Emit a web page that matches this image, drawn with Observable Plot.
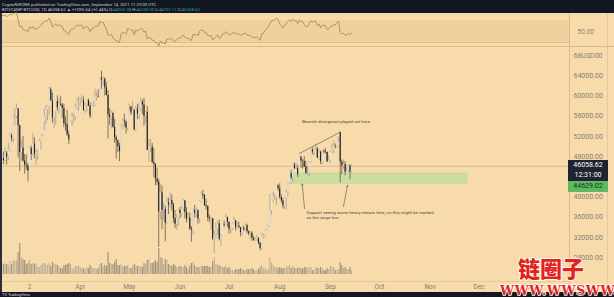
<!DOCTYPE html>
<html>
<head>
<meta charset="utf-8">
<script src="https://cdn.jsdelivr.net/npm/d3@7"></script>
<script src="https://cdn.jsdelivr.net/npm/@observablehq/plot@0.6"></script>
<style>
html,body{margin:0;padding:0;background:#f8dbab;}
#wrap{position:relative;width:614px;height:297px;overflow:hidden;background:#f8dbab;font-family:Roboto,"Liberation Sans",sans-serif;}
.abs{position:absolute;left:0;}
#hdr{position:absolute;left:0;top:0;width:614px;height:13px;background:#131722;color:#c9ccd4;font-size:4.3px;line-height:5px;white-space:nowrap;}
#hdr div{position:absolute;left:2px;}
.teal{color:#2aa596;}
.hl{position:absolute;background:#d9bc8e;}
#ftr{position:absolute;left:0;top:292px;width:614px;height:5px;background:#131722;color:#d8dbe2;font-size:4px;line-height:5px;padding-left:2px;box-sizing:border-box;}
.plbl{position:absolute;left:568px;width:40px;text-align:center;font-size:7px;}
#wm{position:absolute;left:0;top:0;width:614px;height:297px;z-index:10;pointer-events:none;}
</style>
</head>
<body>
<div id="wrap">
  <div id="hdr">
    <div style="top:1.5px">CryptoNIKONE published on TradingView.com, September 14, 2021 11:29:00 UTC</div>
    <div style="top:7px">BITSTAMP:BTCUSD, 1D 46058.62 ▲ +1095.54 (+2.44%) O:<span class="teal">44963.08</span> H:<span class="teal">46330.00</span> L:<span class="teal">44751.11</span> C:<span class="teal">46058.62</span></div>
  </div>
  <div id="rsi" class="abs" style="top:13px"></div>
  <div id="vol" class="abs" style="top:234px"></div>
  <div id="main" class="abs" style="top:46px"></div>
  <div class="hl" style="left:0;top:46px;width:614px;height:0.8px"></div>
  <div class="hl" style="left:0;top:281px;width:569px;height:0.6px;opacity:0.6"></div>
  <div class="hl" style="left:569px;top:13px;width:0.8px;height:279px"></div>
  <div class="hl" style="left:607px;top:13px;width:0.6px;height:279px;opacity:0.6"></div>
  <div style="position:absolute;left:0;top:13px;width:1.5px;height:279px;background:#2a2e39"></div>
  <div id="labels"></div>
  <div id="ftr">TV TradingView</div>
  <svg id="wm" width="614" height="297" xmlns="http://www.w3.org/2000/svg">
    <g fill="#e3231b" stroke="#ffffff" stroke-width="1.6" paint-order="stroke" font-weight="900">
      <text x="518" y="277" font-family="Noto Sans CJK SC" font-size="22">链圈子</text>
      <text x="500" y="295" font-family="DejaVu Serif, Liberation Serif, serif" font-size="12.5" letter-spacing="0.6">WWW.WWSWW.CN</text>
    </g>
  </svg>
</div>
<script>
// ---------- data (prices in thousands USD, daily from 2021-02-13) ----------
const firstDate = "2021-02-13";
const firstOpen = 47.5;
const closes = [
 47.2,48.6,47.9,49.1,52.1,51.6,55.9,55.9,57.4,54.1,48.8,49.7,47.1,46.3,46.1,45.1,
 49.6,48.4,50.5,48.4,48.8,48.9,51.0,52.4,54.9,55.9,57.3,57.8,61.2,59.0,55.6,56.9,58.9,57.6,58.3,58.1,57.5,54.5,54.3,52.3,51.3,55.0,55.8,55.8,57.6,58.8,58.9,
 59.0,59.0,57.1,58.2,59.1,58.0,56.0,58.1,58.1,59.8,59.9,59.8,63.5,63.1,63.3,61.6,60.1,56.2,55.7,56.5,53.8,51.7,51.1,50.0,49.0,54.0,55.0,54.8,53.6,57.8,
 57.8,56.6,57.2,53.3,57.4,56.4,57.4,58.8,58.2,55.9,56.7,49.2,49.7,49.9,46.8,46.4,43.5,42.9,37.0,40.8,37.3,37.5,34.8,38.8,38.4,39.3,38.4,35.7,34.6,35.7,37.3,
 36.7,37.6,39.2,36.9,35.6,35.8,33.6,33.4,37.3,36.7,37.3,35.6,39.1,40.5,40.2,38.3,38.1,35.8,35.6,35.7,31.7,32.5,33.7,34.7,31.6,32.2,34.6,34.4,35.9,35.0,
 33.6,33.8,34.7,35.3,33.9,34.2,33.9,32.9,33.8,33.5,34.3,33.1,32.7,32.8,31.8,31.4,31.5,31.8,30.8,29.8,32.1,32.3,33.6,34.3,35.4,37.3,39.4,40.0,40.0,42.2,41.6,
 39.9,39.2,38.2,39.7,40.9,42.8,44.6,43.8,46.3,45.6,45.6,44.4,47.8,47.1,47.0,45.9,44.7,44.7,46.8,49.3,48.9,49.3,49.5,47.7,48.9,47.0,49.1,48.9,48.8,46.9,47.2,
 48.8,49.3,50.0,49.9,51.8,52.7,46.9,46.1,46.4,44.9,45.2,46.1,44.96,46.05862
];
const highs = [
 48.9,49.7,49.0,50.6,52.6,52.5,56.2,57.5,58.4,57.5,54.2,51.3,52.0,48.4,48.3,46.6,
 49.8,50.1,52.6,51.7,49.4,49.2,51.4,52.4,54.9,57.4,58.1,58.0,61.7,61.6,60.6,56.9,58.9,60.0,59.4,59.9,58.5,58.4,55.8,57.2,53.0,55.1,56.6,56.5,58.4,59.4,59.8,
 59.5,60.2,59.8,58.5,59.3,59.4,58.7,58.2,58.9,61.3,60.7,61.2,63.7,64.9,63.8,63.6,62.6,61.0,57.5,57.0,56.8,55.4,52.1,51.2,50.6,54.4,55.5,56.4,55.2,57.9,
 58.4,57.9,58.9,57.2,57.9,58.3,58.6,59.5,59.2,59.5,56.9,57.9,51.3,51.4,50.6,49.6,46.6,45.7,43.5,42.5,42.2,38.8,38.2,39.8,39.7,40.8,40.4,38.8,37.3,36.4,37.5,
 37.9,38.2,39.5,39.3,37.9,36.8,36.8,34.1,37.5,38.3,37.7,37.4,39.3,41.0,41.3,40.5,39.5,38.2,36.4,36.0,35.7,33.3,34.8,35.2,35.4,32.7,34.6,35.2,36.6,36.0,
 35.0,33.9,34.9,35.9,35.3,35.0,35.0,33.9,34.1,34.2,34.6,34.6,33.3,33.1,33.1,32.2,31.9,32.4,31.9,31.0,32.8,32.6,33.6,34.4,35.4,40.5,39.5,40.9,40.6,42.3,42.4,
 42.6,40.4,39.7,39.9,41.4,43.0,44.7,45.3,46.5,46.7,46.7,46.2,48.0,48.1,47.4,48.0,47.1,46.0,47.0,49.3,49.7,49.5,50.5,49.8,49.3,49.1,49.1,49.3,49.6,48.9,48.2,
 49.0,50.3,51.0,50.5,51.9,52.8,52.9,47.3,47.3,47.0,45.9,46.4,46.3,46.3
];
const lows = [
 46.4,47.0,46.3,47.1,48.9,50.9,50.7,54.0,55.5,47.7,45.0,47.1,46.8,44.5,45.3,43.0,
 45.1,47.2,48.1,47.5,46.3,47.2,48.9,49.3,51.9,53.1,54.3,55.1,56.1,59.0,54.6,53.6,54.2,57.0,56.3,57.9,55.6,53.7,53.0,52.0,50.4,51.2,53.9,54.7,55.1,57.2,56.9,
 58.0,58.5,56.9,56.5,56.8,57.9,55.5,55.8,57.7,57.9,59.0,59.6,59.8,61.3,62.0,60.0,60.0,51.5,54.2,53.4,53.6,50.6,47.5,48.8,47.0,48.9,53.2,53.9,52.4,53.1,
 57.1,56.1,56.5,53.1,52.9,55.3,55.3,56.9,56.3,54.0,54.6,49.2,46.9,48.8,46.6,43.8,42.2,42.3,30.0,35.4,33.5,35.4,31.1,34.5,36.5,37.8,37.2,34.8,33.7,33.4,34.2,
 35.7,35.9,37.2,35.6,34.8,35.3,33.4,31.0,32.4,35.8,35.9,34.6,34.8,38.8,39.5,38.1,37.4,35.1,34.9,33.4,31.3,28.8,31.7,32.4,31.3,30.2,32.0,33.9,34.3,34.0,
 32.7,32.7,33.3,34.5,33.2,33.6,33.8,32.1,32.3,33.1,33.3,32.7,32.3,31.6,31.2,31.2,31.2,31.2,30.5,29.3,29.5,31.7,32.0,33.4,33.9,35.3,36.4,38.8,39.3,38.3,41.1,
 39.5,38.7,37.6,37.5,37.4,39.9,42.5,43.4,42.8,45.4,45.4,43.8,44.2,45.7,45.5,45.8,44.4,44.3,43.9,46.6,48.3,48.1,49.1,47.6,47.2,46.4,46.4,48.5,48.5,46.9,46.8,
 46.6,48.6,48.6,49.5,49.6,50.9,42.8,44.4,45.5,44.2,44.8,44.8,43.4,44.75
];
// volume, thousand BTC
const volumes = [
 10,11,10,9,13,10,14,13,14,22,31,17,15,14,10,11,
 14,10,11,10,11,7,7,9,11,11,10,9,11,8,12,10,10,9,8,6,6,9,9,10,11,10,6,5,8,8,8,
 7,6,6,5,7,6,9,7,6,6,5,6,10,11,8,9,8,22,11,10,10,12,15,9,9,10,8,8,8,9,
 6,6,8,10,9,8,8,8,7,11,10,14,15,11,11,12,14,12,26,17,16,10,15,14,10,9,8,10,9,7,8,
 8,7,7,9,7,5,8,11,12,9,7,7,7,8,8,8,8,8,7,7,13,17,10,9,9,8,7,7,8,6,
 7,5,4,4,5,5,5,6,5,4,3,5,5,5,6,5,3,4,5,7,9,6,6,4,5,16,11,9,7,7,6,
 7,6,6,6,7,8,9,6,8,6,6,6,7,6,5,7,7,6,7,7,4,4,7,6,6,7,6,4,4,6,5,
 8,7,7,4,4,5,12,9,6,7,5,5,7,4
];
// closes before the first candle, used only to warm up the RSI(14)
const warmupCloses = [34.3,34.3,33.1,33.5,35.5,37.7,36.9,38.1,39.3,38.9,46.2,46.5,44.8,47.9,47.5];

const lastPrice = 46.05862;
const zoneTopLabel = "44629.02";
const priceTicks = [28,32,36,40,48,52,56,60,64,68];
const priceTickLabels = ["28000.00","32000.00","36000.00","40000.00","48000.00","52000.00","56000.00","60000.00","64000.00","68USD00"];
const monthTicks = ["2021-03-01","2021-04-01","2021-05-01","2021-06-01","2021-07-01","2021-08-01","2021-09-01","2021-10-01","2021-11-01","2021-12-01","2022-01-01"];
const monthLabels = ["2","Apr","May","Jun","Jul","Aug","Sep","Oct","Nov","Dec","2022"];
const zone = [{x1:"2021-08-07T14:00Z", x2:"2021-11-23T20:00Z", y1:42.62, y2:44.629}];
const trend = [{date:"2021-08-13T02:00Z", price:48.6},{date:"2021-09-06T14:00Z", price:52.75}];
const arrows = [
  {x1:"2021-08-16T05:00Z", y1:37.7, x2:"2021-08-14T18:00Z", y2:42.55},
  {x1:"2021-09-09T00:00Z", y1:38.1, x2:"2021-09-11T11:00Z", y2:42.3}
];
const notes = [
  {date:"2021-08-14T18:00Z", price:54.93, text:"Bearish divergence played out here."},
  {date:"2021-08-17T10:00Z", price:36.97, text:"Support seeing some heavy retests here, so this might be marked"},
  {date:"2021-08-17T10:00Z", price:35.98, text:"as the range low."}
];
const rsiBand = [{lo:30, hi:70}];

// ---------- build ----------
const n = closes.length;
if (highs.length!==n || lows.length!==n || volumes.length!==n) throw new Error("length mismatch "+[n,highs.length,lows.length,volumes.length]);
const t0 = new Date(firstDate+"T00:00Z");
const candles = closes.map((c,i)=>({
  date: d3.utcDay.offset(t0, i),
  open: i ? closes[i-1] : firstOpen,
  close: c, high: highs[i], low: lows[i], vol: volumes[i]
}));
candles.forEach(d=>d.up = d.close >= d.open);
const P = d => new Date(d);
const xDomain = [new Date(Date.UTC(2021,1,11,5,25)), new Date(Date.UTC(2022,0,25,5,45))];

// RSI(14), Wilder smoothing
const all = warmupCloses.concat(closes);
const rsi = [];
let ag=0, al=0;
for (let i=1;i<all.length;i++){
  const ch = all[i]-all[i-1], g = Math.max(ch,0), l = Math.max(-ch,0);
  if (i<=14){ ag += g/14; al += l/14; } else { ag=(ag*13+g)/14; al=(al*13+l)/14; }
  if (i>=14){ rsi.push({date: d3.utcDay.offset(t0, i-warmupCloses.length), v: 100-100/(1+ag/al)}); }
}

const priceLabelMap = new Map(priceTicks.map((d,i)=>[d,priceTickLabels[i]]));
const monthLabelMap = new Map(monthTicks.map((d,i)=>[+P(d+"T00:00Z"),monthLabels[i]]));

const common = {width:614, marginLeft:0, marginRight:45, marginTop:0};
const styleBase = {background:"none", overflow:"visible", fontFamily:"Roboto, 'Liberation Sans', sans-serif"};

// RSI pane
const rsiPlot = Plot.plot({
  ...common, height:33, marginBottom:0,
  style:{...styleBase, color:"#8a8276"},
  x:{type:"utc", domain:xDomain, axis:null},
  y:{domain:[22.7,82.7], axis:null},
  marks:[
    Plot.rect(rsiBand, {x1:()=>xDomain[0], x2:()=>xDomain[1], y1:"lo", y2:"hi", fill:"#eccd9a", fillOpacity:0.75}),
    Plot.ruleY([30], {stroke:"#cfb185", strokeWidth:0.6}),
    Plot.line(rsi, {x:"date", y:"v", stroke:"#9a8556", strokeWidth:0.8}),
    Plot.axisY({anchor:"right", ticks:[50], tickFormat:()=>"50.00", tickSize:0, tickPadding:8, fontSize:6.5, label:null})
  ]
});
document.getElementById("rsi").appendChild(rsiPlot);

// Volume (own scale, sits under candles)
const volPlot = Plot.plot({
  ...common, height:40, marginBottom:0,
  style:styleBase,
  x:{type:"utc", domain:xDomain, axis:null},
  y:{domain:[0,40], axis:null},
  marks:[
    Plot.ruleX(candles, {x:"date", y1:0, y2:"vol", stroke:d=>d.up?"#b9ab93":"#978a76", strokeWidth:1.15, strokeOpacity:0.9})
  ]
});
document.getElementById("vol").appendChild(volPlot);

// Main price pane
const mainPlot = Plot.plot({
  ...common, height:246, marginBottom:11,
  style:{...styleBase, color:"#857e74"},
  x:{type:"utc", domain:xDomain},
  y:{domain:[23.248,69.783]},
  marks:[
    Plot.rect(zone, {x1:d=>P(d.x1), x2:d=>P(d.x2), y1:"y1", y2:"y2", fill:"#c5dea0", fillOpacity:0.9, stroke:"#b4d190", strokeWidth:0.5}),
    Plot.ruleY([lastPrice], {stroke:"#b39676", strokeWidth:0.6, strokeOpacity:0.8}),
    Plot.ruleX(candles, {x:"date", y1:"low", y2:"high", stroke:d=>d.up?"#8d877e":"#303030", strokeWidth:0.6}),
    Plot.ruleX(candles, {x:"date", y1:"open", y2:"close", stroke:d=>d.up?"#ece8e0":"#232323", strokeWidth:1.15}),
    Plot.line(trend, {x:d=>P(d.date), y:"price", stroke:"#4e4c48", strokeWidth:0.6}),
    Plot.arrow(arrows, {x1:d=>P(d.x1), y1:"y1", x2:d=>P(d.x2), y2:"y2", stroke:"#55524c", strokeWidth:0.6, headLength:3.5}),
    Plot.text(notes, {x:d=>P(d.date), y:"price", text:"text", textAnchor:"start", fontSize:4.4, fill:"#4f4b45"}),
    Plot.axisY({anchor:"right", ticks:priceTicks, tickFormat:d=>priceLabelMap.get(d), tickSize:0, tickPadding:4, fontSize:7, label:null}),
    Plot.axisX({ticks:monthTicks.map(d=>P(d+"T00:00Z")), tickFormat:d=>monthLabelMap.get(+d), tickSize:0, tickPadding:3, fontSize:6.5, label:null})
  ]
});
document.getElementById("main").appendChild(mainPlot);

// price labels on the axis, placed through the main y scale
const yp = 46 + mainPlot.scale("y").apply(lastPrice);
const lab = document.getElementById("labels");
lab.innerHTML =
  `<div class="plbl" style="top:${yp-5.5}px;height:21px;background:#1f2430;color:#fff;line-height:10px">${(lastPrice*1000).toFixed(2)}<br>12:31:00</div>` +
  `<div class="plbl" style="top:${yp+15.5}px;height:10.5px;background:#5fb862;color:#17351a;line-height:10.5px">${zoneTopLabel}</div>`;
</script>
</body>
</html>
